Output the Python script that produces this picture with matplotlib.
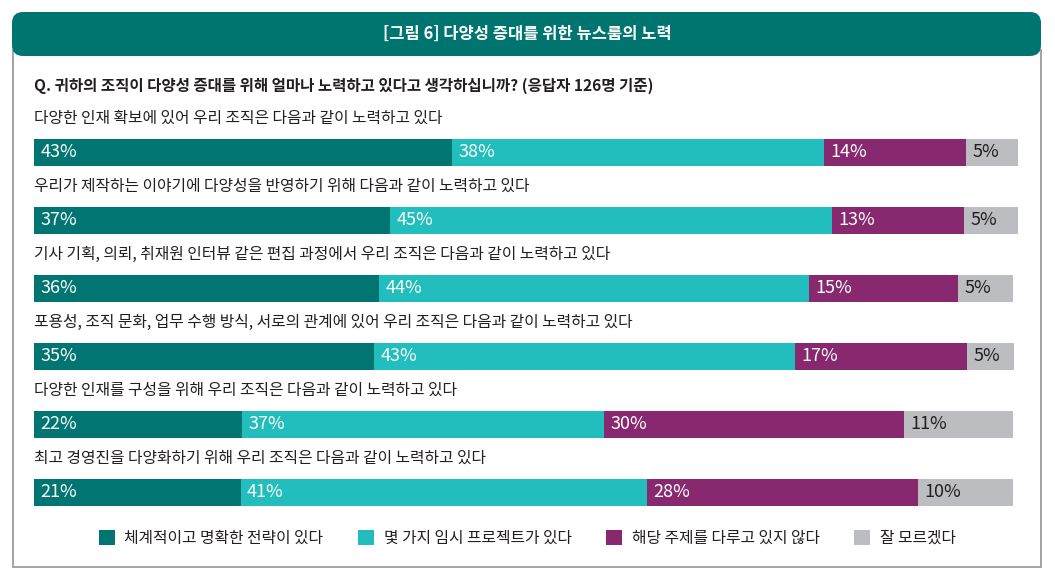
import matplotlib
matplotlib.use("Agg")
import matplotlib.pyplot as plt
from matplotlib.patches import FancyBboxPatch, Rectangle
import numpy as np

plt.rcParams['font.family'] = ['Noto Sans CJK KR', 'DejaVu Sans']

title = "[그림 6] 다양성 증대를 위한 뉴스룸의 노력"
question = "Q. 귀하의 조직이 다양성 증대를 위해 얼마나 노력하고 있다고 생각하십니까? (응답자 126명 기준)"

categories = [
    "다양한 인재 확보에 있어 우리 조직은 다음과 같이 노력하고 있다",
    "우리가 제작하는 이야기에 다양성을 반영하기 위해 다음과 같이 노력하고 있다",
    "기사 기획, 의뢰, 취재원 인터뷰 같은 편집 과정에서 우리 조직은 다음과 같이 노력하고 있다",
    "포용성, 조직 문화, 업무 수행 방식, 서로의 관계에 있어 우리 조직은 다음과 같이 노력하고 있다",
    "다양한 인재를 구성을 위해 우리 조직은 다음과 같이 노력하고 있다",
    "최고 경영진을 다양화하기 위해 우리 조직은 다음과 같이 노력하고 있다",
]

series_names = ["체계적이고 명확한 전략이 있다", "몇 가지 임시 프로젝트가 있다",
                "해당 주제를 다루고 있지 않다", "잘 모르겠다"]

# bar lengths as drawn
strategy = [42.5, 36.2, 35.1, 34.6, 21.1, 21.0]
adhoc    = [37.8, 44.9, 43.7, 42.7, 36.8, 41.3]
notdone  = [14.4, 13.4, 15.1, 17.5, 30.5, 27.5]
unknown  = [5.3, 5.5, 5.6, 4.8, 11.1, 9.7]

# printed labels
strategy_lbl = [43, 37, 36, 35, 22, 21]
adhoc_lbl    = [38, 45, 44, 43, 37, 41]
notdone_lbl  = [14, 13, 15, 17, 30, 28]
unknown_lbl  = [5, 5, 5, 5, 11, 10]

colors = ["#007571", "#22BDBD", "#88286F", "#BCBDC0"]
label_colors = ["white", "white", "white", "#231F20"]
text_color = "#231F20"

W, H = 1055, 582
fig = plt.figure(figsize=(W / 100, H / 100), dpi=100)
fig.patch.set_facecolor("white")

# background / frame axes in pixel coordinates
bg = fig.add_axes([0, 0, 1, 1])
bg.set_xlim(0, W)
bg.set_ylim(H, 0)
bg.axis("off")
bg.add_patch(Rectangle((12.5, 50), 1028, 516.5, facecolor="white",
                       edgecolor="#A3A3A3", lw=1.4))
bg.add_patch(FancyBboxPatch((12, 12), 1029, 44,
                            boxstyle="round,pad=0,rounding_size=11",
                            facecolor="#00756F", edgecolor="none"))
bg.text(527, 34, title, color="white", fontsize=11.9, fontweight="bold",
        ha="center", va="center")
bg.text(34, 86, question, color=text_color, fontsize=11.2, fontweight="bold",
        ha="left", va="center")

# bar axes
top_px, bot_px = 118, 526
ax = fig.add_axes([34 / W, (H - bot_px) / H, 984 / W, (bot_px - top_px) / H])
ax.set_xlim(0, 100)
ax.set_ylim(len(categories) - 0.5, -0.5)
ax.axis("off")

y = np.arange(len(categories))
series = [strategy, adhoc, notdone, unknown]
labels = [strategy_lbl, adhoc_lbl, notdone_lbl, unknown_lbl]
left = np.zeros(len(categories))
handles = []
for vals, lbls, col, lc, name in zip(series, labels, colors, label_colors, series_names):
    vals = np.array(vals)
    bars = ax.barh(y, vals, left=left, height=27 / 68, color=col, label=name)
    handles.append(bars)
    for yi, l, v in zip(y, left, lbls):
        ax.text(l + 0.65, yi, f"{v}%", color=lc, fontsize=13, ha="left",
                va="center")
    left = left + vals

for yi, cat in zip(y, categories):
    ax.text(0, yi - 0.49, cat, color=text_color, fontsize=11.4, ha="left",
            va="center")

fs = 11.4
fpx = fs / 72 * 100
leg = fig.legend(handles=handles, labels=series_names, loc="center",
                 bbox_to_anchor=(527 / W, (H - 538.5) / H), ncol=4,
                 frameon=False, fontsize=fs, labelcolor=text_color,
                 handlelength=16 / fpx, handleheight=16 / fpx,
                 handletextpad=10 / fpx, columnspacing=34 / fpx,
                 borderpad=0, borderaxespad=0)

fig.savefig("out.png", dpi=100, facecolor="white")
